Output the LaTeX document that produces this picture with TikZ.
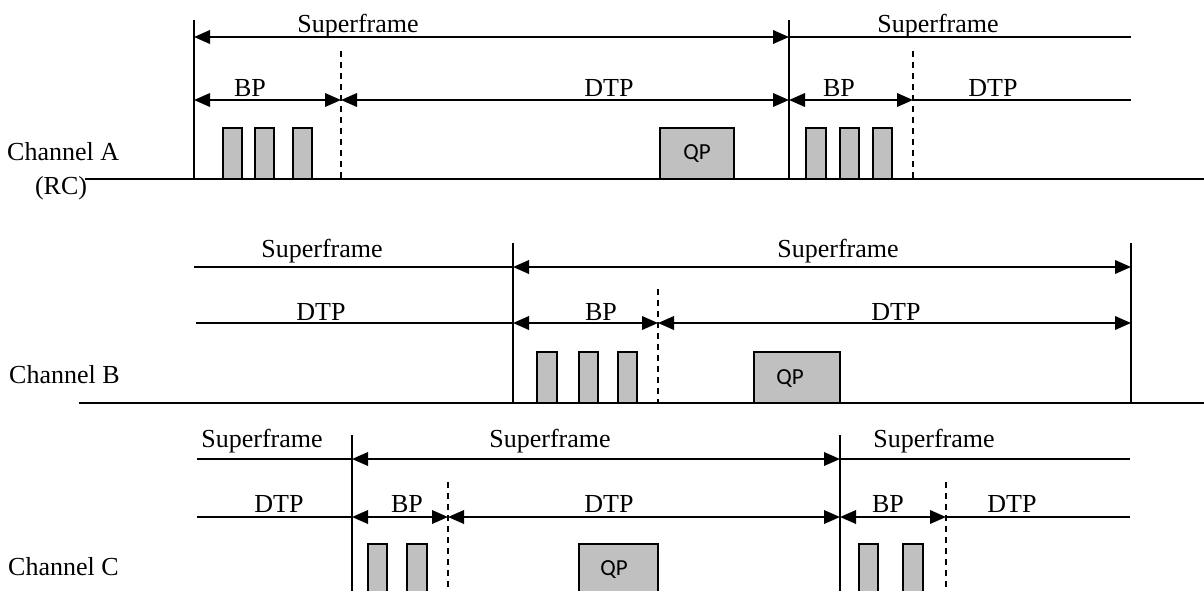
\documentclass[tikz,border=0pt]{standalone}
\usepackage{fontspec}
\setmainfont{Liberation Serif}
\newfontfamily\qpfont{Carlito}
\usetikzlibrary{arrows.meta}
\definecolor{slotgray}{RGB}{192,192,192}
\tikzset{
  tip/.tip={Triangle[length=16pt,width=13.5pt]},
  baseln/.style={line width=2.3pt},
  tick/.style={line width=1.3pt},
  dashln/.style={line width=1.3pt, dash pattern=on 6pt off 5pt},
  spanln/.style={line width=2pt},
  both/.style={spanln, tip-tip},
  slot/.style={draw, line width=1.2pt, fill=slotgray},
  qpbox/.style={draw, line width=1.2pt, fill=slotgray, inner sep=0pt, font=\qpfont\fontsize{23}{26}\selectfont},
  lbl/.style={inner sep=0pt, anchor=base, font=\fontsize{26}{30}\selectfont},
  chlbl/.style={inner sep=0pt, anchor=base west, font=\fontsize{26}{30}\selectfont}
}
\begin{document}
\begin{tikzpicture}[x=1pt,y=-1pt]
\clip (0,0) rectangle (1204,590);
\fill[white] (0,0) rectangle (1204,590);

% ---------------- Channel A ----------------
\node[chlbl] (chA) at (7,160) {Channel A};
\node[lbl] (rc) at (61,194) {(RC)};
\coordinate (A0) at (85,179);
\coordinate (A1) at (1204,179);
\draw[baseln] (A0) -- (A1);
\coordinate (At1) at (194,20);  \coordinate (Ab1) at (194,179);
\coordinate (At2) at (789,20);  \coordinate (Ab2) at (789,179);
\coordinate (Ad1t) at (341,51); \coordinate (Ad1b) at (341,179);
\coordinate (Ad2t) at (913,51); \coordinate (Ad2b) at (913,179);
\draw[tick] (At1) -- (Ab1);
\draw[tick] (At2) -- (Ab2);
\draw[dashln] (Ad1t) -- (Ad1b);
\draw[dashln] (Ad2t) -- (Ad2b);
\coordinate (As1) at (194,37); \coordinate (As2) at (789,37); \coordinate (As3) at (1131,37);
\coordinate (Ap1) at (194,100); \coordinate (Ap2) at (341,100); \coordinate (Ap3) at (789,100);
\coordinate (Ap4) at (913,100); \coordinate (Ap5) at (1131,100);
\draw[both] (As1) -- (As2);
\draw[spanln] (As2) -- (As3);
\draw[both] (Ap1) -- (Ap2);
\draw[both] (Ap2) -- (Ap3);
\draw[both] (Ap3) -- (Ap4);
\draw[spanln] (Ap4) -- (Ap5);
\node[lbl] (Asf1) at (358,32) {Superframe};
\node[lbl] (Asf2) at (938,32) {Superframe};
\node[lbl] (Abp1) at (250,96) {BP};
\node[lbl] (Adtp1) at (609,96) {DTP};
\node[lbl] (Abp2) at (839,96) {BP};
\node[lbl] (Adtp2) at (993,96) {DTP};
\draw[slot] (223,128) rectangle (242,179);
\draw[slot] (255,128) rectangle (274,179);
\draw[slot] (293,128) rectangle (312,179);
\draw[slot] (806,128) rectangle (826,179);
\draw[slot] (840,128) rectangle (859,179);
\draw[slot] (873,128) rectangle (892,179);
\node[qpbox, minimum width=74pt, minimum height=51pt] (qpA) at (697,153.5) {QP};

% ---------------- Channel B ----------------
\node[chlbl] (chB) at (9,383) {Channel B};
\coordinate (B0) at (79,403);
\coordinate (B1) at (1204,403);
\draw[baseln] (B0) -- (B1);
\coordinate (Bt1) at (513,243);  \coordinate (Bb1) at (513,403);
\coordinate (Bt2) at (1131,243); \coordinate (Bb2) at (1131,403);
\coordinate (Bd1t) at (658,289); \coordinate (Bd1b) at (658,403);
\draw[tick] (Bt1) -- (Bb1);
\draw[tick] (Bt2) -- (Bb2);
\draw[dashln] (Bd1t) -- (Bd1b);
\coordinate (Bs0) at (194,267); \coordinate (Bs1) at (513,267); \coordinate (Bs2) at (1131,267);
\coordinate (Bp0) at (196,323); \coordinate (Bp1) at (513,323); \coordinate (Bp2) at (658,323);
\coordinate (Bp3) at (1131,323);
\draw[spanln] (Bs0) -- (Bs1);
\draw[both] (Bs1) -- (Bs2);
\draw[spanln] (Bp0) -- (Bp1);
\draw[both] (Bp1) -- (Bp2);
\draw[both] (Bp2) -- (Bp3);
\node[lbl] (Bsf1) at (322,257) {Superframe};
\node[lbl] (Bsf2) at (838,257) {Superframe};
\node[lbl] (Bdtp0) at (321,320) {DTP};
\node[lbl] (Bbp1) at (601,320) {BP};
\node[lbl] (Bdtp1) at (896,320) {DTP};
\draw[slot] (537,352) rectangle (557,403);
\draw[slot] (579,352) rectangle (598,403);
\draw[slot] (618,352) rectangle (637,403);
\node[qpbox, minimum width=86pt, minimum height=51pt] (qpB) at (797,377.5) {};
\node[inner sep=0pt, font=\qpfont\fontsize{23}{26}\selectfont] (qpBt) at (790,379) {QP};

% ---------------- Channel C ----------------
\node[chlbl] (chC) at (8,575) {Channel C};
\coordinate (Ct1) at (352,435); \coordinate (Cb1) at (352,592);
\coordinate (Ct2) at (840,435); \coordinate (Cb2) at (840,592);
\coordinate (Cd1t) at (448,482); \coordinate (Cd1b) at (448,592);
\coordinate (Cd2t) at (946,482); \coordinate (Cd2b) at (946,592);
\draw[tick] (Ct1) -- (Cb1);
\draw[tick] (Ct2) -- (Cb2);
\draw[dashln] (Cd1t) -- (Cd1b);
\draw[dashln] (Cd2t) -- (Cd2b);
\coordinate (Cs0) at (197,459); \coordinate (Cs1) at (352,459); \coordinate (Cs2) at (840,459);
\coordinate (Cs3) at (1130,459);
\coordinate (Cp0) at (197,517); \coordinate (Cp1) at (352,517); \coordinate (Cp2) at (448,517);
\coordinate (Cp3) at (840,517); \coordinate (Cp4) at (946,517); \coordinate (Cp5) at (1130,517);
\draw[spanln] (Cs0) -- (Cs1);
\draw[both] (Cs1) -- (Cs2);
\draw[spanln] (Cs2) -- (Cs3);
\draw[spanln] (Cp0) -- (Cp1);
\draw[both] (Cp1) -- (Cp2);
\draw[both] (Cp2) -- (Cp3);
\draw[both] (Cp3) -- (Cp4);
\draw[spanln] (Cp4) -- (Cp5);
\node[lbl] (Csf0) at (262,447) {Superframe};
\node[lbl] (Csf1) at (550,447) {Superframe};
\node[lbl] (Csf2) at (934,447) {Superframe};
\node[lbl] (Cdtp0) at (279,512) {DTP};
\node[lbl] (Cbp1) at (407,512) {BP};
\node[lbl] (Cdtp1) at (609,512) {DTP};
\node[lbl] (Cbp2) at (888,512) {BP};
\node[lbl] (Cdtp2) at (1012,512) {DTP};
\draw[slot] (368,544) rectangle (387,596);
\draw[slot] (407,544) rectangle (427,596);
\draw[slot] (859,544) rectangle (878,596);
\draw[slot] (903,544) rectangle (923,596);
\node[qpbox, minimum width=79pt, minimum height=54pt] (qpC) at (618.5,571) {};
\node[inner sep=0pt, font=\qpfont\fontsize{23}{26}\selectfont] (qpCt) at (614,570) {QP};
\end{tikzpicture}
\end{document}
